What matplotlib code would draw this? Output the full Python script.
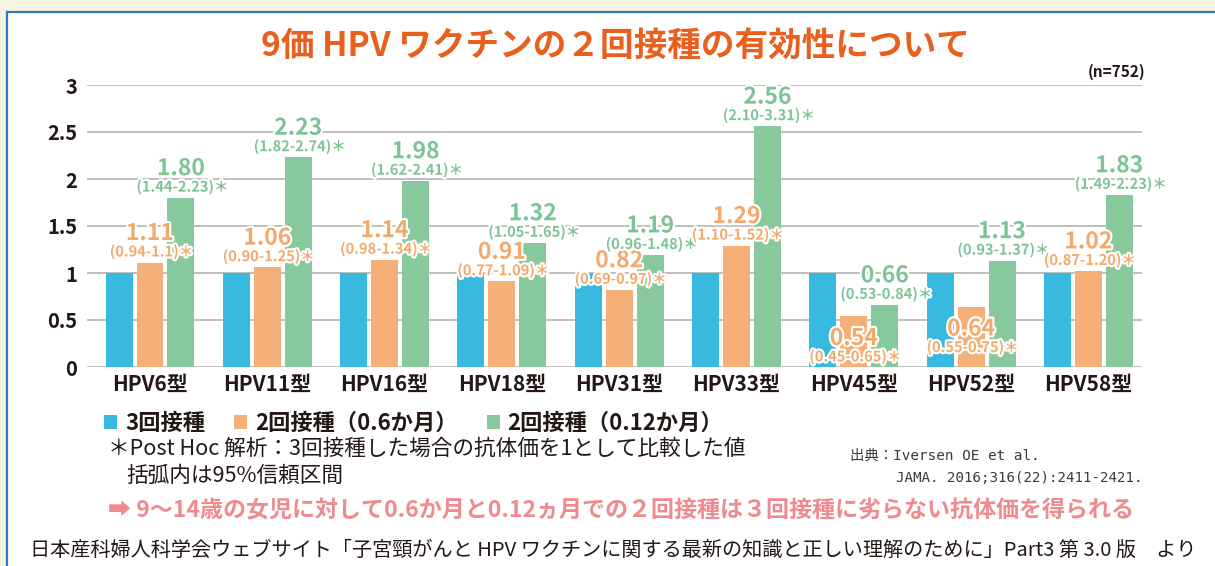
import matplotlib
matplotlib.use('Agg')
import matplotlib.pyplot as plt
import matplotlib.patheffects as pe
from matplotlib.patches import Rectangle
from matplotlib.lines import Line2D
import numpy as np

plt.rcParams['font.family'] = ['Noto Sans CJK JP', 'DejaVu Sans']

# data
types = ['HPV6型', 'HPV11型', 'HPV16型', 'HPV18型', 'HPV31型',
         'HPV33型', 'HPV45型', 'HPV52型', 'HPV58型']
three_dose = [1, 1, 1, 1, 1, 1, 1, 1, 1]
two_dose_06 = [1.11, 1.06, 1.14, 0.91, 0.82, 1.29, 0.54, 0.64, 1.02]
two_dose_012 = [1.80, 2.23, 1.98, 1.32, 1.19, 2.56, 0.66, 1.13, 1.83]
ci_06 = ['(0.94-1.1)', '(0.90-1.25)', '(0.98-1.34)', '(0.77-1.09)', '(0.69-0.97)',
         '(1.10-1.52)', '(0.45-0.65)', '(0.55-0.75)', '(0.87-1.20)']
ci_012 = ['(1.44-2.23)', '(1.82-2.74)', '(1.62-2.41)', '(1.05-1.65)', '(0.96-1.48)',
          '(2.10-3.31)', '(0.53-0.84)', '(0.93-1.37)', '(1.49-2.23)']
# orange labels that sit inside the bar instead of above it
label_inside_06 = [False, False, False, False, False, False, True, True, False]
series_names = ['3回接種', '2回接種（0.6か月）', '2回接種（0.12か月）']

BLUE = '#38B9E0'
ORANGE = '#F5B07A'
GREEN = '#87C89C'
ORANGE_TXT = '#F2A96C'
GREEN_TXT = '#7CC496'
DARK = '#231815'

W, H = 1215, 566
fig = plt.figure(figsize=(W / 100, H / 100), dpi=100)
fig.patch.set_facecolor('#F7F4E1')
fig.add_artist(Rectangle((7 / W, 0), 1, 1 - 12 / H, transform=fig.transFigure,
                         facecolor='white', edgecolor='none', zorder=0))
fig.add_artist(Line2D([7 / W, 1], [1 - 12 / H, 1 - 12 / H], transform=fig.transFigure,
                      color='#2B7CC4', lw=1.6))
fig.add_artist(Line2D([7 / W, 7 / W], [0, 1 - 12 / H], transform=fig.transFigure,
                      color='#2B7CC4', lw=1.6))

ax = fig.add_axes([87 / W, 1 - 367 / H, (1142 - 87) / W, (367 - 85) / H])
ax.set_facecolor('none')

x = np.arange(len(types))
bw = 0.23
off = 0.264
b1 = ax.bar(x - off, three_dose, bw, color=BLUE, zorder=2, label=series_names[0])
b2 = ax.bar(x, two_dose_06, bw, color=ORANGE, zorder=2, label=series_names[1])
b3 = ax.bar(x + off, two_dose_012, bw, color=GREEN, zorder=2, label=series_names[2])

ax.set_ylim(0, 3)
ax.set_xlim(-0.537, 8.457)
ax.set_yticks([0, 0.5, 1, 1.5, 2, 2.5, 3])
ax.set_yticklabels(['0', '0.5', '1', '1.5', '2', '2.5', '3'])
ax.yaxis.grid(True, color='#B4B4B4', lw=1.2, zorder=0)
for s in ax.spines.values():
    s.set_visible(False)
ax.tick_params(axis='both', length=0)
ax.tick_params(axis='y', pad=7, labelsize=14.5, labelcolor=DARK)
ax.tick_params(axis='x', pad=5, labelsize=15, labelcolor=DARK)
for t in ax.get_yticklabels():
    t.set_fontweight('bold')
ax.set_xticks(x)
ax.set_xticklabels(types, fontweight='bold')

stroke = [pe.withStroke(linewidth=3, foreground='white')]


def put_label(xpos, val, ci, color, inside=False):
    if inside:
        dv, dc = -16, -29
    else:
        dv, dc = 21, 8
    ax.annotate(f'{val:.2f}', (xpos, val), xytext=(0, dv), textcoords='offset points',
                ha='center', va='center', fontsize=16.5, fontweight='bold',
                color=color, path_effects=stroke, zorder=4)
    ax.annotate(ci + '＊', (xpos, val), xytext=(1, dc), textcoords='offset points',
                ha='center', va='center', fontsize=10.5, fontweight='bold',
                color=color, path_effects=stroke, zorder=4)


for i in range(len(types)):
    put_label(x[i], two_dose_06[i], ci_06[i], ORANGE_TXT, label_inside_06[i])
    put_label(x[i] + off, two_dose_012[i], ci_012[i], GREEN_TXT)

fig.text(615 / W, 1 - 47 / H, '9価 HPV ワクチンの２回接種の有効性について',
         ha='center', va='center', fontsize=24.2, fontweight='bold', color='#E9601E')
fig.text(1145 / W, 1 - 72 / H, '(n=752)', ha='right', va='center',
         fontsize=11, fontweight='bold', color=DARK)

fig.legend(handles=[b1, b2, b3], loc='center left',
           bbox_to_anchor=(104 / W, 1 - 423 / H), ncol=3, frameon=False,
           handlelength=0.6, handleheight=0.6, handletextpad=0.35,
           columnspacing=1.3, borderpad=0, borderaxespad=0,
           prop={'weight': 'bold', 'size': 16}, labelcolor=DARK)

fig.text(108 / W, 1 - 449 / H, '＊Post Hoc 解析：3回接種した場合の抗体価を1として比較した値',
         ha='left', va='center', fontsize=15.6, color=DARK)
fig.text(126 / W, 1 - 476 / H, '括弧内は95%信頼区間',
         ha='left', va='center', fontsize=15.6, color=DARK)

cite_font = ['DejaVu Sans Mono', 'Noto Sans CJK JP']
fig.text(850 / W, 1 - 456 / H, '出典：Iversen OE et al.', ha='left', va='center',
         fontsize=10.4, color='#3A3A3A', family=cite_font)
fig.text(896 / W, 1 - 478 / H, 'JAMA. 2016;316(22):2411-2421.', ha='left', va='center',
         fontsize=10.2, color='#3A3A3A', family=cite_font)

fig.text(108 / W, 1 - 511 / H,
         '➡ 9〜14歳の女児に対して0.6か月と0.12ヵ月での２回接種は３回接種に劣らない抗体価を得られる',
         ha='left', va='center', fontsize=16.6, fontweight='bold', color='#EF8A8F',
         family=['Noto Sans CJK JP', 'DejaVu Sans'])

fig.text(30 / W, 1 - 550 / H,
         '日本産科婦人科学会ウェブサイト「子宮頸がんと HPV ワクチンに関する最新の知識と正しい理解のために」Part3 第 3.0 版　より',
         ha='left', va='center', fontsize=14.5, color=DARK)

fig.savefig('out.png', dpi=100)
